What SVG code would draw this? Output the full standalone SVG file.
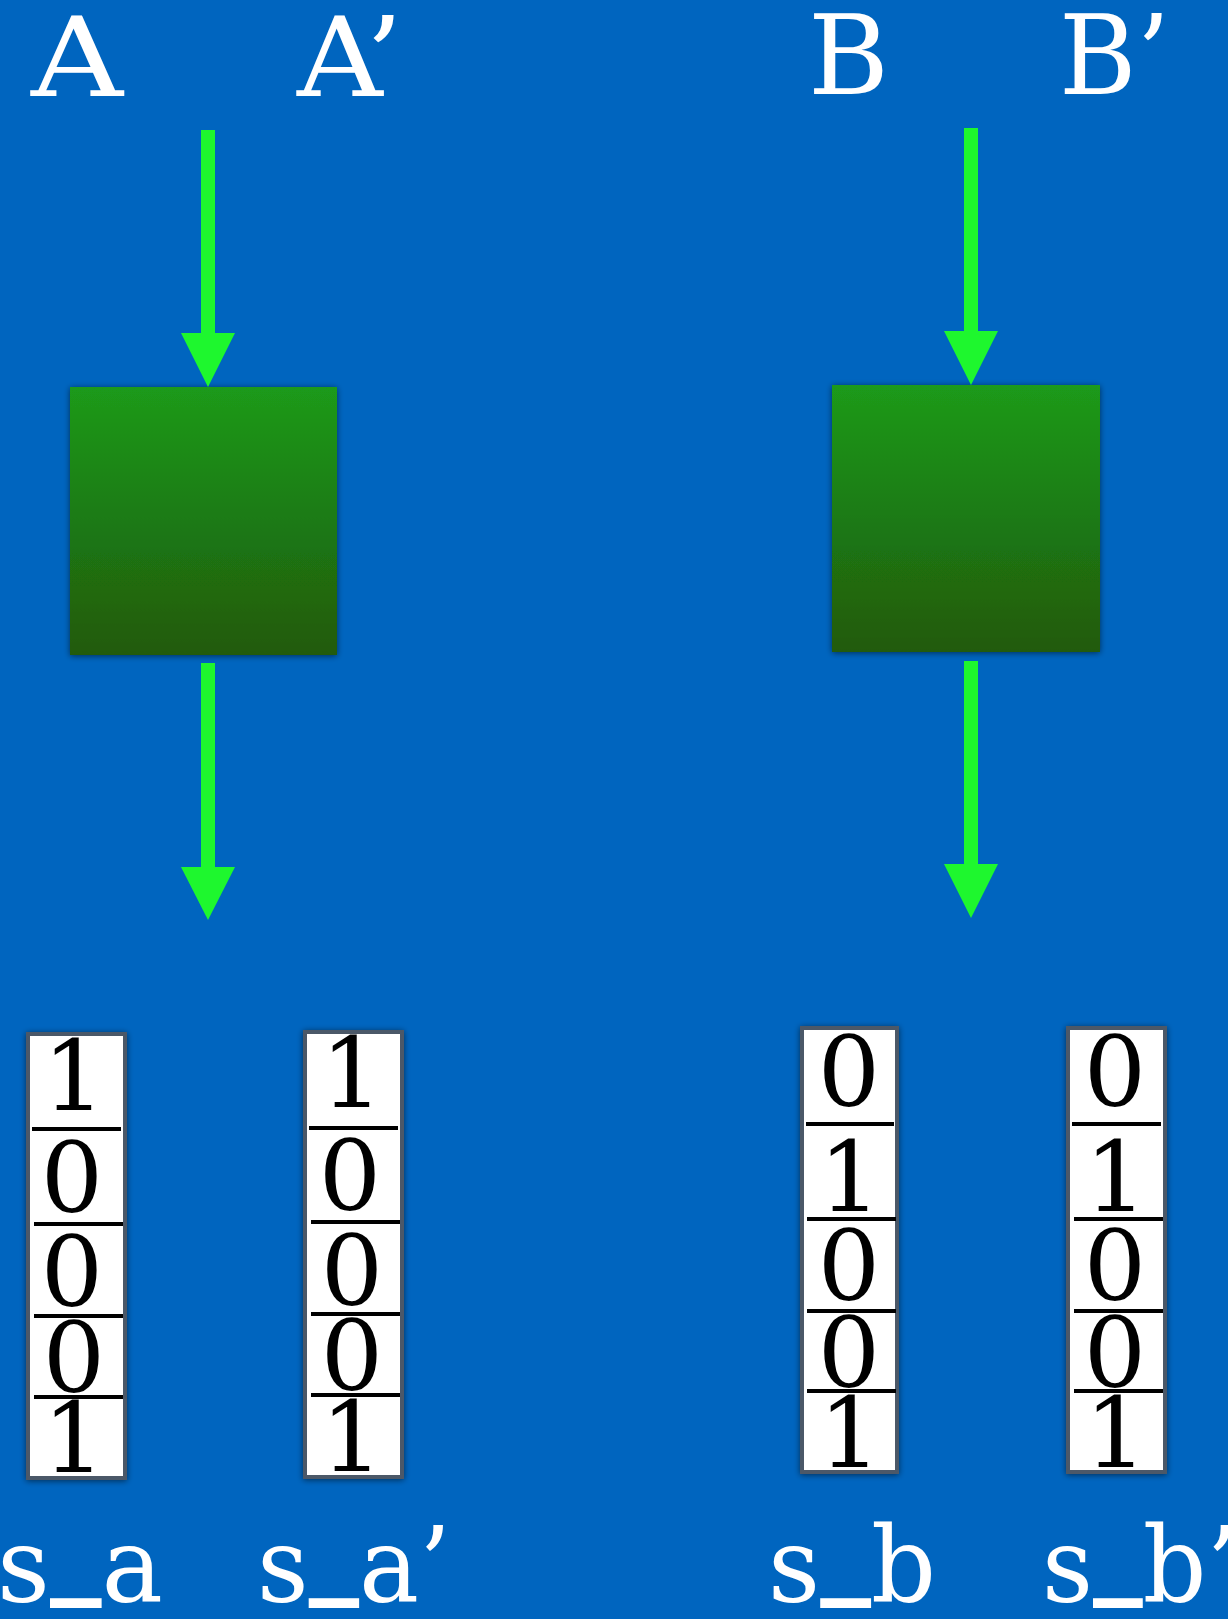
<svg xmlns="http://www.w3.org/2000/svg" width="1228" height="1619" viewBox="0 0 1228 1619">
  <style>
    .label { font-family: "DejaVu Serif", "Liberation Serif", serif; fill: #ffffff; }
    .top { font-size: 111px; }
    .bottom { font-size: 105px; }
    .under { font-weight: bold; }
    .bit { font-family: "DejaVu Serif", "Liberation Serif", serif; font-size: 98px; fill: #000000; text-anchor: middle; }
    .cell { fill: #ffffff; stroke: #4b5968; stroke-width: 4; }
    .sep { stroke: #000000; stroke-width: 4; }
    .arrow { fill: #1ef72e; }
    .block { fill: url(#blockFill); }
  </style>
  <defs>
    <linearGradient id="blockFill" x1="0" y1="0" x2="0" y2="1">
      <stop offset="0" stop-color="#1a9a1a"/>
      <stop offset="1" stop-color="#225a0d"/>
    </linearGradient>
    <filter id="shadow" x="-10%" y="-10%" width="120%" height="120%">
      <feGaussianBlur in="SourceAlpha" stdDeviation="3"/>
      <feOffset dx="0" dy="1" result="b"/>
      <feComponentTransfer><feFuncA type="linear" slope="0.55"/></feComponentTransfer>
      <feMerge><feMergeNode/><feMergeNode in="SourceGraphic"/></feMerge>
    </filter>
  </defs>

  <rect width="1228" height="1619" fill="#0065bf"/>

  <!-- top labels -->
  <g id="label-A"><text class="label top" x="31" y="96" textLength="92" lengthAdjust="spacingAndGlyphs">A</text></g>
  <g id="label-A2"><text class="label top" x="297" y="96" textLength="106" lengthAdjust="spacingAndGlyphs">A’</text></g>
  <g id="label-B"><text class="label top" x="808" y="94" textLength="81" lengthAdjust="spacingAndGlyphs">B</text></g>
  <g id="label-B2"><text class="label top" x="1059" y="94" textLength="111" lengthAdjust="spacingAndGlyphs">B’</text></g>

  <!-- processing blocks -->
  <g id="block-A"><rect class="block" x="70" y="387" width="267" height="268" filter="url(#shadow)"/></g>
  <g id="block-B"><rect class="block" x="832" y="385" width="268" height="267" filter="url(#shadow)"/></g>

  <!-- connectors -->
  <g id="connectors">
    <g id="arrow-A-in">
      <rect class="arrow" x="201" y="130" width="14" height="205"/>
      <polygon class="arrow" points="181,333 235,333 208,387"/>
    </g>
    <g id="arrow-A-out">
      <rect class="arrow" x="201" y="663" width="14" height="206"/>
      <polygon class="arrow" points="181,867 235,867 208,920"/>
    </g>
    <g id="arrow-B-in">
      <rect class="arrow" x="964" y="128" width="14" height="205"/>
      <polygon class="arrow" points="944,331 998,331 971,385"/>
    </g>
    <g id="arrow-B-out">
      <rect class="arrow" x="964" y="661" width="14" height="205"/>
      <polygon class="arrow" points="944,864 998,864 971,918"/>
    </g>
  </g>

  <!-- bit strings -->
  <g id="bits-sa" filter="url(#shadow)">
    <rect class="cell" x="28" y="1034" width="97" height="444"/>
    <line class="sep" x1="32" y1="1129" x2="121" y2="1129"/>
    <line class="sep" x1="34" y1="1224" x2="123" y2="1224"/>
    <line class="sep" x1="34" y1="1316" x2="123" y2="1316"/>
    <line class="sep" x1="34" y1="1397" x2="123" y2="1397"/>
    <text class="bit" x="74" y="1110">1</text>
    <text class="bit" x="72" y="1212">0</text>
    <text class="bit" x="72" y="1306">0</text>
    <text class="bit" x="74" y="1392">0</text>
    <text class="bit" x="74" y="1472">1</text>
  </g>
  <g id="bits-sa2" filter="url(#shadow)">
    <rect class="cell" x="305" y="1032" width="97" height="445"/>
    <line class="sep" x1="309" y1="1128" x2="398" y2="1128"/>
    <line class="sep" x1="311" y1="1222" x2="400" y2="1222"/>
    <line class="sep" x1="311" y1="1314" x2="400" y2="1314"/>
    <line class="sep" x1="311" y1="1395" x2="400" y2="1395"/>
    <text class="bit" x="352" y="1107">1</text>
    <text class="bit" x="350" y="1210">0</text>
    <text class="bit" x="352" y="1305">0</text>
    <text class="bit" x="352" y="1390">0</text>
    <text class="bit" x="352" y="1471">1</text>
  </g>
  <g id="bits-sb" filter="url(#shadow)">
    <rect class="cell" x="802" y="1028" width="95" height="444"/>
    <line class="sep" x1="806" y1="1124" x2="894" y2="1124"/>
    <line class="sep" x1="807" y1="1219" x2="896" y2="1219"/>
    <line class="sep" x1="807" y1="1311" x2="896" y2="1311"/>
    <line class="sep" x1="807" y1="1391" x2="896" y2="1391"/>
    <text class="bit" x="849" y="1106">0</text>
    <text class="bit" x="850" y="1211">1</text>
    <text class="bit" x="849" y="1300">0</text>
    <text class="bit" x="849" y="1387">0</text>
    <text class="bit" x="850" y="1467">1</text>
  </g>
  <g id="bits-sb2" filter="url(#shadow)">
    <rect class="cell" x="1068" y="1028" width="97" height="444"/>
    <line class="sep" x1="1072" y1="1124" x2="1161" y2="1124"/>
    <line class="sep" x1="1074" y1="1219" x2="1163" y2="1219"/>
    <line class="sep" x1="1074" y1="1311" x2="1163" y2="1311"/>
    <line class="sep" x1="1074" y1="1391" x2="1163" y2="1391"/>
    <text class="bit" x="1115" y="1106">0</text>
    <text class="bit" x="1116" y="1211">1</text>
    <text class="bit" x="1115" y="1300">0</text>
    <text class="bit" x="1115" y="1387">0</text>
    <text class="bit" x="1116" y="1467">1</text>
  </g>

  <!-- bottom labels (underscore raised so it sits just under the baseline) -->
  <g id="label-sa"><text class="label bottom" x="-3" y="1602" textLength="166" lengthAdjust="spacingAndGlyphs">s<tspan class="under" dy="-19">_</tspan><tspan dy="19">a</tspan></text></g>
  <g id="label-sa2"><text class="label bottom" x="257" y="1602" textLength="194" lengthAdjust="spacingAndGlyphs">s<tspan class="under" dy="-19">_</tspan><tspan dy="19">a’</tspan></text></g>
  <g id="label-sb"><text class="label bottom" x="768" y="1602" textLength="168" lengthAdjust="spacingAndGlyphs">s<tspan class="under" dy="-19">_</tspan><tspan dy="19">b</tspan></text></g>
  <g id="label-sb2"><text class="label bottom" x="1042" y="1602" textLength="196" lengthAdjust="spacingAndGlyphs">s<tspan class="under" dy="-19">_</tspan><tspan dy="19">b’</tspan></text></g>
</svg>
